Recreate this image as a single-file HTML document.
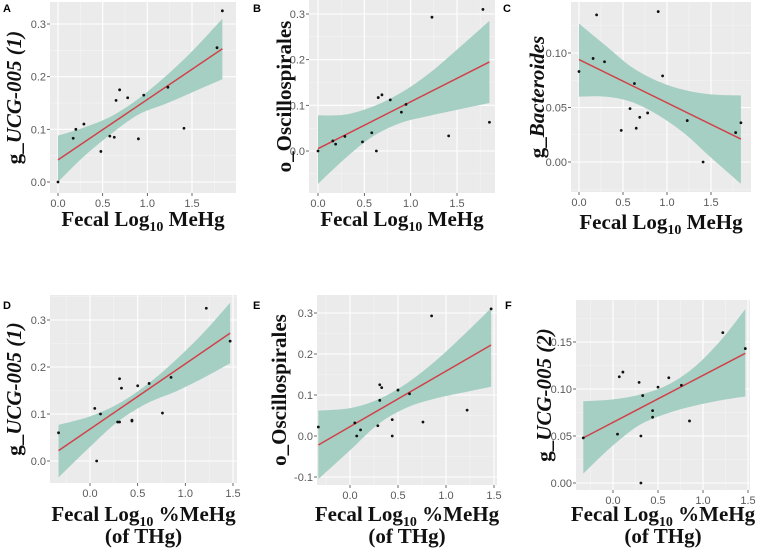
<!DOCTYPE html>
<html><head><meta charset="utf-8"><style>
body{margin:0;background:#fff;width:760px;height:557px;overflow:hidden}
svg{display:block}
.tick{font-family:"Liberation Sans",sans-serif;font-size:11px;fill:#5a5a5a}
.ttl{font-family:"Liberation Serif",serif;font-weight:bold;font-size:21px;fill:#111}
.lbl{font-family:"Liberation Sans",sans-serif;font-weight:bold;font-size:11px;fill:#000}
</style></head><body>
<svg id="fig" width="760" height="557"></svg>
<script>
// ---- Data (top level) ----
const aX=[0,0.17,0.2,0.29,0.48,0.58,0.63,0.65,0.69,0.78,0.9,0.96,1.23,1.41,1.78,1.84];
const aY=[0,0.083,0.1,0.11,0.058,0.087,0.085,0.155,0.175,0.16,0.082,0.165,0.18,0.102,0.255,0.325];
const aLine=[0.042,0.253];
const aBandX=[0,0.3,0.6,0.9,1.2,1.5,1.84];
const aBandHi=[0.088,0.104,0.125,0.158,0.2,0.248,0.31];
const aBandLo=[0.0,0.05,0.092,0.128,0.148,0.17,0.195];

const bX=[0,0.16,0.19,0.29,0.48,0.58,0.63,0.65,0.69,0.78,0.9,0.95,1.23,1.41,1.78,1.85];
const bY=[0,0.022,0.015,0.032,0.02,0.04,0,0.117,0.123,0.112,0.085,0.102,0.293,0.033,0.31,0.063];
const bLine=[0.005,0.195];
const bBandX=[0,0.3,0.6,0.9,1.2,1.5,1.85];
const bBandHi=[0.078,0.08,0.098,0.128,0.17,0.222,0.285];
const bBandLo=[-0.072,-0.015,0.033,0.062,0.077,0.09,0.105];

const cX=[0,0.16,0.2,0.29,0.48,0.58,0.63,0.65,0.69,0.78,0.9,0.95,1.23,1.41,1.78,1.84];
const cY=[0.083,0.095,0.135,0.092,0.029,0.049,0.072,0.031,0.041,0.045,0.138,0.079,0.038,0.0,0.027,0.036];
const cLine=[0.094,0.021];
const cBandX=[0,0.3,0.6,0.9,1.2,1.5,1.84];
const cBandHi=[0.127,0.107,0.087,0.074,0.066,0.062,0.061];
const cBandLo=[0.06,0.06,0.055,0.043,0.026,0.004,-0.02];

const dX=[-0.33,0.05,0.07,0.11,0.29,0.31,0.31,0.33,0.44,0.44,0.5,0.62,0.76,0.85,1.22,1.47];
const dY=[0.06,0.112,0.0,0.1,0.083,0.083,0.175,0.155,0.087,0.085,0.16,0.165,0.102,0.178,0.325,0.255];
const dLine=[0.022,0.272];
const dBandX=[-0.33,0,0.3,0.6,0.9,1.2,1.47];
const dBandHi=[0.077,0.095,0.122,0.163,0.215,0.275,0.337];
const dBandLo=[-0.035,0.03,0.085,0.123,0.148,0.178,0.208];

const eX=[-0.33,0.05,0.07,0.11,0.29,0.31,0.31,0.33,0.44,0.44,0.5,0.62,0.76,0.85,1.22,1.47];
const eY=[0.022,0.032,0.0,0.015,0.025,0.087,0.125,0.118,0.04,0.0,0.112,0.103,0.034,0.293,0.063,0.31];
const eLine=[-0.022,0.222];
const eBandX=[-0.33,0,0.3,0.6,0.9,1.2,1.47];
const eBandHi=[0.062,0.068,0.09,0.13,0.185,0.25,0.312];
const eBandLo=[-0.105,-0.035,0.03,0.07,0.092,0.107,0.12];

const fX=[-0.33,0.05,0.07,0.11,0.29,0.31,0.31,0.33,0.44,0.44,0.5,0.62,0.76,0.85,1.22,1.47];
const fY=[0.048,0.052,0.113,0.118,0.107,0.05,0.0,0.093,0.077,0.07,0.102,0.112,0.104,0.066,0.16,0.143];
const fLine=[0.048,0.138];
const fBandX=[-0.33,0,0.3,0.6,0.9,1.2,1.47];
const fBandHi=[0.087,0.089,0.094,0.104,0.123,0.152,0.185];
const fBandLo=[0.01,0.04,0.062,0.074,0.082,0.088,0.092];

const xTicks1=["0.0","0.5","1.0","1.5"];
const yTicksA=["0.0","0.1","0.2","0.3"];
const yTicksC=["0.00","0.05","0.10"];
const yTicksE=["-0.1","0.0","0.1","0.2","0.3"];
const yTicksF=["0.00","0.05","0.10","0.15"];

const NS="http://www.w3.org/2000/svg";
const svg=document.getElementById('fig');
function mk(tag,attrs,parent){const e=document.createElementNS(NS,tag);for(const k in attrs)e.setAttribute(k,attrs[k]);(parent||svg).appendChild(e);return e;}
function smooth(pts){ // Catmull-Rom to bezier, pts already pixel coords
  let d='';
  for(let i=0;i<pts.length-1;i++){
    const p0=pts[Math.max(i-1,0)],p1=pts[i],p2=pts[i+1],p3=pts[Math.min(i+2,pts.length-1)];
    const c1=[p1[0]+(p2[0]-p0[0])/6,p1[1]+(p2[1]-p0[1])/6];
    const c2=[p2[0]-(p3[0]-p1[0])/6,p2[1]-(p3[1]-p1[1])/6];
    d+=' C'+c1.join(',')+' '+c2.join(',')+' '+p2.join(',');
  }
  return d;
}

const panels=[
 {id:'a',letter:'A',lx:3,ly:12,rect:[50,2,236,193],xa:[0,58,1.5,192],ya:[0,182,0.3,24],xs:aX,ys:aY,line:aLine,bx:aBandX,hi:aBandHi,lo:aBandLo,xt:xTicks1,yt:yTicksA,
  ytitle:['g_','UCG-005 (1)'],ytx:14,xtitle:1,xtY:226},
 {id:'b',letter:'B',lx:253,ly:12,rect:[309,0,495,193],xa:[0,318,1.5,457],ya:[0,151,0.3,14],xs:bX,ys:bY,line:bLine,bx:bBandX,hi:bBandHi,lo:bBandLo,xt:xTicks1,yt:yTicksA,
  ytitle:['o_Oscillospirales',''],ytx:284,xtitle:1,xtY:226},
 {id:'c',letter:'C',lx:503,ly:12,rect:[571,2,751,192],xa:[0,579,1.5,711],ya:[0,162,0.1,53],xs:cX,ys:cY,line:cLine,bx:cBandX,hi:cBandHi,lo:cBandLo,xt:xTicks1,yt:yTicksC,
  ytitle:['g_','Bacteroides'],ytx:537,xtitle:1,xtY:229},
 {id:'d',letter:'D',lx:3,ly:309,rect:[50,295,237,483],xa:[0,90,1.5,233],ya:[0,461,0.3,320],xs:dX,ys:dY,line:dLine,bx:dBandX,hi:dBandHi,lo:dBandLo,xt:xTicks1,yt:yTicksA,
  ytitle:['g_','UCG-005 (1)'],ytx:14,xtitle:2,xtY:521},
 {id:'e',letter:'E',lx:253,ly:309,rect:[317,295,497,485],xa:[0,350,1.5,494],ya:[0,436,0.3,313],xs:eX,ys:eY,line:eLine,bx:eBandX,hi:eBandHi,lo:eBandLo,xt:xTicks1,yt:yTicksE,
  ytitle:['o_Oscillospirales',''],ytx:279,xtitle:2,xtY:521},
 {id:'f',letter:'F',lx:505,ly:309,rect:[576,300,750,490],xa:[0,613,1.5,748],ya:[0,483,0.15,342],xs:fX,ys:fY,line:fLine,bx:fBandX,hi:fBandHi,lo:fBandLo,xt:xTicks1,yt:yTicksF,
  ytitle:['g_','UCG-005 (2)'],ytx:544,xtitle:2,xtY:521}
];

panels.forEach(p=>{
  const g=mk('g',{});
  
  
  const sx=v=>p.xa[1]+(v-p.xa[0])*(p.xa[3]-p.xa[1])/(p.xa[2]-p.xa[0]);
  const sy=v=>p.ya[1]+(v-p.ya[0])*(p.ya[3]-p.ya[1])/(p.ya[2]-p.ya[0]);
  const [x0,y0,x1,y1]=p.rect;
  const bg=mk('rect',{x:x0,y:y0,width:x1-x0,height:y1-y0,fill:'#ebebeb'},g);
  
  
  const cp=mk('clipPath',{id:'cp'+p.id},g);
  mk('rect',{x:x0,y:y0,width:x1-x0,height:y1-y0},cp);
  const xv=p.xt.map(Number), yv=p.yt.map(Number);
  const xstep=xv[1]-xv[0], ystep=yv[1]-yv[0];
  for(let v=xv[0]-xstep*2;v<=xv[xv.length-1]+xstep*2;v+=xstep){const px=sx(v+xstep/2);if(px>x0&&px<x1)mk('line',{x1:px,x2:px,y1:y0,y2:y1,stroke:'#f5f5f5','stroke-width':0.6},g);}
  for(let v=yv[0]-ystep*2;v<=yv[yv.length-1]+ystep*2;v+=ystep){const py=sy(v+ystep/2);if(py>y0&&py<y1)mk('line',{x1:x0,x2:x1,y1:py,y2:py,stroke:'#f5f5f5','stroke-width':0.6},g);}
  p.xt.forEach((t,i)=>{const px=sx(xv[i]);
    mk('line',{x1:px,x2:px,y1:y0,y2:y1,stroke:'#fff','stroke-width':1.1},g);
    mk('line',{x1:px,x2:px,y1:y1,y2:y1+3,stroke:'#444','stroke-width':0.8},g);
    const tx=mk('text',{x:px,y:y1+14,'text-anchor':'middle',class:'tick'},g);tx.textContent=t;
    
    });
  p.yt.forEach((t,i)=>{const py=sy(yv[i]);
    mk('line',{x1:x0,x2:x1,y1:py,y2:py,stroke:'#fff','stroke-width':1.1},g);
    mk('line',{x1:x0-3,x2:x0,y1:py,y2:py,stroke:'#444','stroke-width':0.8},g);
    const tx=mk('text',{x:x0-4,y:py+4,'text-anchor':'end',class:'tick'},g);tx.textContent=t;
    
    });
  const hiPts=p.bx.map((v,i)=>[sx(v),sy(p.hi[i])]);
  const loPts=p.bx.map((v,i)=>[sx(v),sy(p.lo[i])]).reverse();
  let d='M'+hiPts[0].join(',')+smooth(hiPts)+' L'+loPts[0].join(',')+smooth(loPts)+'Z';
  const band=mk('path',{d:d,fill:'#a6cfc4','clip-path':'url(#cp'+p.id+')'},g);
  
  
  const bx0=p.bx[0],bx1=p.bx[p.bx.length-1];
  const ln=mk('line',{x1:sx(bx0),y1:sy(p.line[0]),x2:sx(bx1),y2:sy(p.line[1]),stroke:'#d0424a','stroke-width':1.5},g);
  
  
  p.xs.forEach((v,i)=>{const c=mk('circle',{cx:sx(v),cy:sy(p.ys[i]),r:1.4,fill:'#111'},g);
    
    });
  const L=mk('text',{x:p.lx,y:p.ly,class:'lbl'},g);L.textContent=p.letter;
  
  
  const cy=(y0+y1)/2;
  const yt=mk('text',{x:p.ytx,y:cy,'text-anchor':'middle',class:'ttl',transform:'rotate(-90 '+p.ytx+' '+cy+')','dominant-baseline':'central'},g);
  
  
  const t1=mk('tspan',{},yt);t1.textContent=p.ytitle[0];
  if(p.ytitle[1]){const t2=mk('tspan',{'font-style':'italic'},yt);t2.textContent=p.ytitle[1];}
  const cx=(x0+x1)/2;
  const xt=mk('text',{x:cx,y:p.xtY,'text-anchor':'middle',class:'ttl'},g);
  
  
  const s1=mk('tspan',{},xt);s1.textContent='Fecal Log';
  const s2=mk('tspan',{'font-size':'14px',dy:5},xt);s2.textContent='10';
  const s3=mk('tspan',{dy:-5},xt);s3.textContent=p.xtitle===1?' MeHg':' %MeHg';
  if(p.xtitle===2){const x2=mk('text',{x:cx,y:p.xtY+22,'text-anchor':'middle',class:'ttl'},g);x2.textContent='(of THg)';
    
    }
});
</script>
</body></html>
